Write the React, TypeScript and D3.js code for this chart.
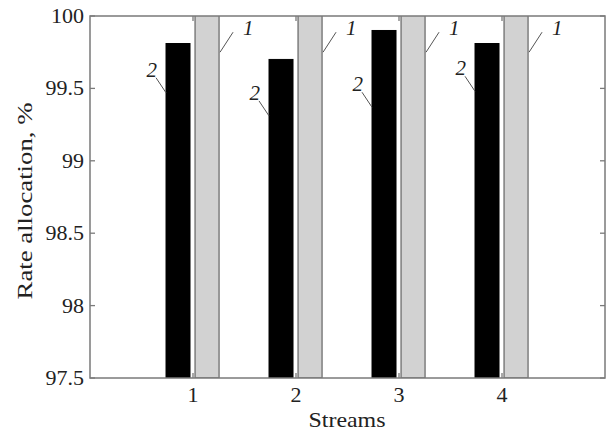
import React from "react";
import * as d3 from "d3";

const streams = [1, 2, 3, 4];
const series2Values = [99.81, 99.7, 99.9, 99.81]; // black bars (label 2)
const series1Values = [100, 100, 100, 100]; // gray bars (label 1)
const yTicks = [97.5, 98, 98.5, 99, 99.5, 100];
const yTickLabels = ["97.5", "98", "98.5", "99", "99.5", "100"];
const label2Values = [99.47, 99.31, 99.37, 99.48];
const label1Value = 99.75;

const W = 606;
const H = 433;
const left = 90;
const right = 605;
const top = 16;
const bottom = 378;

export default function App() {
  const x = d3.scaleLinear().domain([0, 5]).range([left, right]);
  const y = d3.scaleLinear().domain([97.5, 100]).range([bottom, top]);
  const bw = x(0.233) - x(0);
  const off2 = x(0.262) - x(0);
  const off1 = x(0.02) - x(0);
  const font = "'Liberation Serif', 'DejaVu Serif Condensed', 'DejaVu Serif', serif";
  const axisColor = "#7a7a7a";
  const ts = { fontFamily: font, fontStretch: "condensed" as const };

  return (
    <svg
      width={W}
      height={H}
      style={{ position: "absolute", left: 0, top: 0, background: "#fff", fontFamily: font }}
    >
      <rect x={0} y={0} width={W} height={H} fill="#fff" />
      <defs>
        <clipPath id="plot">
          <rect x={left} y={top} width={right - left} height={bottom - top} />
        </clipPath>
      </defs>
      <g clipPath="url(#plot)">
        {streams.map((s, i) => (
          <rect
            key={"b2" + i}
            x={x(s) - off2}
            y={y(series2Values[i])}
            width={bw}
            height={y(97.5) - y(series2Values[i])}
            fill="#000"
            stroke="#000"
            strokeWidth={1}
          />
        ))}
        {streams.map((s, i) => (
          <rect
            key={"b1" + i}
            x={x(s) + off1}
            y={y(series1Values[i]) - 2}
            width={bw}
            height={y(97.5) - y(series1Values[i]) + 2}
            fill="#d2d2d2"
            stroke="#6e6e6e"
            strokeWidth={1.3}
          />
        ))}
      </g>
      <rect
        x={left}
        y={top}
        width={right - left}
        height={bottom - top}
        fill="none"
        stroke={axisColor}
        strokeWidth={1.5}
      />
      {yTicks.map((t, i) => (
        <g key={"yt" + i}>
          <line x1={left} x2={left + 5} y1={y(t)} y2={y(t)} stroke={axisColor} strokeWidth={1.3} />
          <line x1={right - 5} x2={right} y1={y(t)} y2={y(t)} stroke={axisColor} strokeWidth={1.3} />
          <text x={left - 6} y={y(t) + 7} textAnchor="end" fontSize={22} fill="#222" style={ts}>
            {yTickLabels[i]}
          </text>
        </g>
      ))}
      {streams.map((s, i) => (
        <g key={"xt" + i}>
          <line x1={x(s)} x2={x(s)} y1={bottom} y2={bottom - 5} stroke={axisColor} strokeWidth={1.3} />
          <line x1={x(s)} x2={x(s)} y1={top} y2={top + 5} stroke={axisColor} strokeWidth={1.3} />
          <text x={x(s)} y={402} textAnchor="middle" fontSize={22} fill="#222" style={ts}>
            {s}
          </text>
        </g>
      ))}
      {streams.map((s, i) => {
        const bx = x(s) - off2;
        const ly = y(label2Values[i]);
        return (
          <g key={"a2" + i}>
            <line x1={bx - 10} y1={ly - 15} x2={bx} y2={ly} stroke="#555" strokeWidth={1} />
            <text x={bx - 9} y={ly - 16} textAnchor="end" fontSize={21} fontStyle="italic" fill="#222" style={ts}>
              2
            </text>
          </g>
        );
      })}
      {streams.map((s, i) => {
        const bx = x(s) + off1 + bw + 1;
        const ly = y(label1Value);
        return (
          <g key={"a1" + i}>
            <line x1={bx} y1={ly} x2={bx + 13} y2={ly - 20} stroke="#555" strokeWidth={1} />
            <text x={bx + 23} y={ly - 17} fontSize={21} fontStyle="italic" fill="#222" style={ts}>
              1
            </text>
          </g>
        );
      })}
      <text
        x={347}
        y={427}
        textAnchor="middle"
        fontSize={22}
        textLength={77}
        lengthAdjust="spacingAndGlyphs"
        fill="#222"
        style={ts}
      >
        Streams
      </text>
      <text
        transform="translate(32,201) rotate(-90)"
        textAnchor="middle"
        fontSize={22}
        textLength={197}
        lengthAdjust="spacingAndGlyphs"
        fill="#222"
        style={ts}
      >
        Rate allocation, %
      </text>
    </svg>
  );
}
